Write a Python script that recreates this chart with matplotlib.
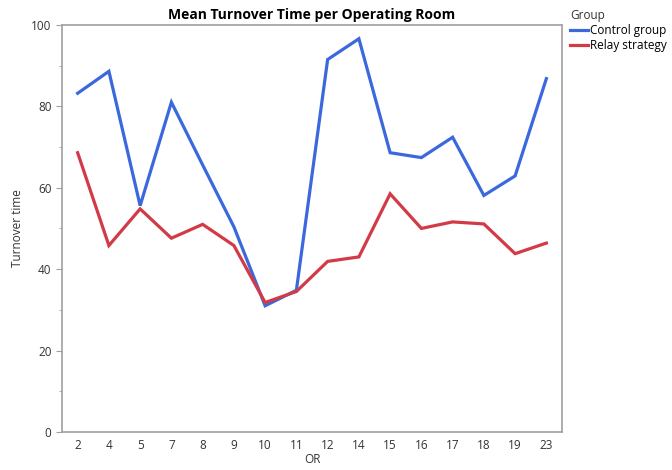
import matplotlib.pyplot as plt
from matplotlib.ticker import MultipleLocator

plt.rcParams['font.family'] = ['Open Sans', 'DejaVu Sans']

# operating rooms (categorical x axis)
rooms = ['2', '4', '5', '7', '8', '9', '10', '11', '12', '14', '15', '16', '17', '18', '19', '23']

# mean turnover time per room
control = [83.2, 88.6, 55.6, 81.0, 65.6, 50.4, 31.0, 34.8, 91.5, 96.6,
           68.6, 67.4, 72.4, 58.1, 62.9, 86.8]
relay = [68.6, 45.8, 54.8, 47.6, 51.0, 45.8, 31.8, 34.5, 41.9, 43.0,
         58.5, 50.0, 51.6, 51.1, 43.8, 46.4]

blue = '#3b68dc'
red = '#d33a47'
frame = '#a0a0a0'

fig = plt.figure(figsize=(6.72, 4.70), dpi=100)
ax = fig.add_axes([0.0923, 0.081, 0.744, 0.866])

x = range(len(rooms))
ax.plot(x, control, color=blue, lw=2.3, label='Control group', solid_joinstyle='miter')
ax.plot(x, relay, color=red, lw=2.3, label='Relay strategy', solid_joinstyle='miter')

ax.set_xlim(-0.5, len(rooms) - 0.5)
ax.set_ylim(0, 100)
ax.set_xticks(list(x))
ax.set_xticklabels(rooms)
ax.yaxis.set_major_locator(MultipleLocator(20))
ax.yaxis.set_minor_locator(MultipleLocator(10))

for s in ax.spines.values():
    s.set_color(frame)
    s.set_linewidth(1.2)
ax.tick_params(axis='x', length=0, pad=5, labelsize=8.5, colors='#333333')
ax.tick_params(axis='y', which='major', length=4, color=frame, labelsize=8.5, labelcolor='#333333')
ax.tick_params(axis='y', which='minor', length=2.5, color=frame)

ax.set_title('Mean Turnover Time per Operating Room', fontsize=10, fontweight='bold', pad=4)
ax.set_xlabel('OR', fontsize=8.5, color='#333333', labelpad=1)
ax.set_ylabel('Turnover time', fontsize=8.5, color='#333333', labelpad=5)

leg = ax.legend(title='Group', loc='upper left', bbox_to_anchor=(1.0, 1.06),
                frameon=False, fontsize=8.5, title_fontsize=8.5,
                handlelength=1.5, handletextpad=0.2, labelspacing=0.2,
                borderaxespad=0.3)
leg._legend_box.align = 'left'
leg.get_title().set_color('#333333')

fig.savefig('out.png', dpi=100)
